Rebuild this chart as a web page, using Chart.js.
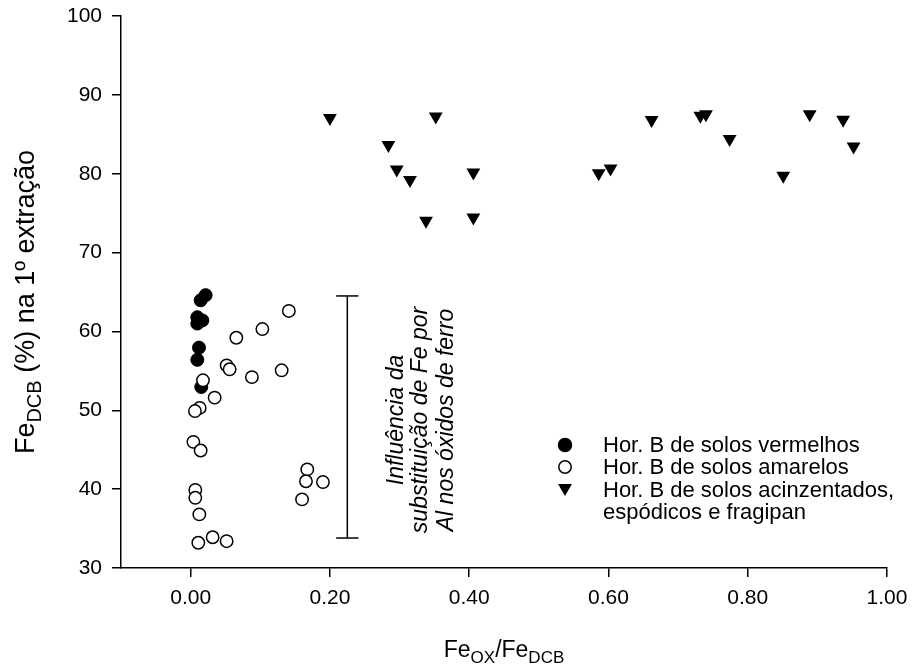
<!DOCTYPE html>
<html><head><meta charset="utf-8">
<script src="https://cdn.jsdelivr.net/npm/chart.js@4/dist/chart.umd.min.js"></script>
<style>html,body{margin:0;padding:0;background:#fff}canvas{display:block}</style>
</head><body>
<canvas id="c" width="912" height="670"></canvas>
<script>
// ---- data ----
const redX = [0.0215, 0.0144, 0.0096, 0.0168, 0.0096, 0.012, 0.0096, 0.0153];
const redY = [64.6, 63.95, 61.8, 61.4, 61.0, 57.95, 56.4, 52.95];

const yellowX = [0.141, 0.103, 0.0656, 0.0517, 0.056, 0.088, 0.1307, 0.0177, 0.0345, 0.013, 0.0062, 0.0039, 0.0144, 0.1675, 0.1656, 0.19, 0.160, 0.0067, 0.0067, 0.0125, 0.011, 0.0316, 0.0517];
const yellowY = [62.6, 60.3, 59.2, 55.7, 55.2, 54.2, 55.07, 53.8, 51.6, 50.3, 49.9, 46.0, 44.9, 42.5, 41.0, 40.9, 38.7, 39.9, 38.9, 36.8, 33.2, 33.9, 33.4];

const greyX = [0.200, 0.284, 0.296, 0.315, 0.338, 0.352, 0.406, 0.406, 0.586, 0.603, 0.662, 0.732, 0.740, 0.774, 0.851, 0.889, 0.937, 0.952];
const greyY = [87.05, 83.65, 80.55, 79.2, 74.05, 87.25, 80.15, 74.45, 80.05, 80.65, 86.8, 87.35, 87.55, 84.4, 79.75, 87.55, 86.85, 83.45];

const barX = 0.225;
const barLow = 33.8;
const barHigh = 64.5;
const barCapHalf = 0.016;

const xTicks = [0.0, 0.2, 0.4, 0.6, 0.8, 1.0];
const xMin = -0.1, xMax = 1.0;
const yMin = 30, yMax = 100, yStep = 10;

const legendLabels = ["Hor. B de solos vermelhos", "Hor. B de solos amarelos", "Hor. B de solos acinzentados,", "espódicos e fragipan"];
const noteLines = ["Influência da", "substituição de Fe por", "Al nos óxidos de ferro"];

const FONT = "'Liberation Sans', Arial, Helvetica, sans-serif";

const pts = (xs, ys) => xs.map((x, i) => ({x: x, y: ys[i]}));

const titlesPlugin = {
  id: 'titles',
  afterDraw(chart) {
    const ctx = chart.ctx;
    ctx.save();
    ctx.fillStyle = '#000';
    // x title
    const mainF = '23px ' + FONT, subF = '17px ' + FONT;
    const parts = [['Fe', mainF, 0], ['OX', subF, 6], ['/Fe', mainF, 0], ['DCB', subF, 6]];
    let w = 0;
    parts.forEach(p => { ctx.font = p[1]; w += ctx.measureText(p[0]).width; });
    let cx = (chart.chartArea.left + chart.chartArea.right) / 2 - w / 2;
    const by = 657;
    ctx.textBaseline = 'alphabetic';
    ctx.textAlign = 'left';
    parts.forEach(p => { ctx.font = p[1]; ctx.fillText(p[0], cx, by + p[2]); cx += ctx.measureText(p[0]).width; });

    // y title rotated
    const yMainF = '27px ' + FONT, ySubF = '20px ' + FONT;
    const yparts = [['Fe', yMainF, 0], ['DCB', ySubF, 7], [' (%) na 1º extração', yMainF, 0]];
    let yw = 0;
    yparts.forEach(p => { ctx.font = p[1]; yw += ctx.measureText(p[0]).width; });
    ctx.translate(34, 302);
    ctx.rotate(-Math.PI / 2);
    let tx = -yw / 2;
    yparts.forEach(p => { ctx.font = p[1]; ctx.fillText(p[0], tx, p[2]); tx += ctx.measureText(p[0]).width; });
    ctx.restore();

    // annotation (rotated italic)
    ctx.save();
    ctx.fillStyle = '#000';
    ctx.font = 'italic 23px ' + FONT;
    ctx.textAlign = 'center';
    ctx.textBaseline = 'alphabetic';
    ctx.translate(0, 420);
    ctx.rotate(-Math.PI / 2);
    const baseXs = [403, 427, 453];
    noteLines.forEach((t, i) => { ctx.fillText(t, 0, baseXs[i]); });
    ctx.restore();

    // legend
    ctx.save();
    ctx.font = '22px ' + FONT;
    ctx.textAlign = 'left';
    ctx.textBaseline = 'middle';
    ctx.fillStyle = '#000';
    const lx = 565, tx0 = 603;
    const rows = [445, 467, 490, 512];
    ctx.lineWidth = 1.5;
    ctx.strokeStyle = '#000';
    ctx.beginPath(); ctx.arc(lx, rows[0], 6.5, 0, Math.PI * 2); ctx.fill(); ctx.stroke();
    ctx.beginPath(); ctx.arc(lx, rows[1], 6.2, 0, Math.PI * 2); ctx.fillStyle = '#fff'; ctx.fill(); ctx.stroke();
    ctx.fillStyle = '#000';
    const r = 8, cy = rows[2] - 2;
    ctx.beginPath();
    ctx.moveTo(lx, cy + r);
    ctx.lineTo(lx - r * Math.sqrt(3) / 2, cy - r / 2);
    ctx.lineTo(lx + r * Math.sqrt(3) / 2, cy - r / 2);
    ctx.closePath(); ctx.fill();
    legendLabels.forEach((t, i) => ctx.fillText(t, tx0, rows[i] + 1));
    ctx.restore();
  }
};

new Chart(document.getElementById('c'), {
  type: 'scatter',
  data: {
    datasets: [
      {
        label: 'bar', type: 'line', data: [{x: barX, y: barLow}, {x: barX, y: barHigh}],
        borderColor: '#000', borderWidth: 1.5, pointRadius: 0, showLine: true, fill: false, order: 5
      },
      {
        label: 'capLow', type: 'line', data: [{x: barX - barCapHalf, y: barLow}, {x: barX + barCapHalf, y: barLow}],
        borderColor: '#000', borderWidth: 1.5, pointRadius: 0, showLine: true, fill: false, order: 5
      },
      {
        label: 'capHigh', type: 'line', data: [{x: barX - barCapHalf, y: barHigh}, {x: barX + barCapHalf, y: barHigh}],
        borderColor: '#000', borderWidth: 1.5, pointRadius: 0, showLine: true, fill: false, order: 5
      },
      {
        label: legendLabels[2], data: pts(greyX, greyY), pointStyle: 'triangle', rotation: 180,
        pointRadius: 8, backgroundColor: '#000', borderColor: '#000', borderWidth: 0, order: 3
      },
      {
        label: legendLabels[0], data: pts(redX, redY), pointStyle: 'circle',
        pointRadius: 6.5, backgroundColor: '#000', borderColor: '#000', borderWidth: 1, order: 2
      },
      {
        label: legendLabels[1], data: pts(yellowX, yellowY), pointStyle: 'circle',
        pointRadius: 6.2, backgroundColor: '#fff', borderColor: '#000', borderWidth: 1.5, order: 1
      }
    ]
  },
  options: {
    responsive: false,
    animation: false,
    events: [],
    layout: {padding: {left: 0, top: 16, right: 25, bottom: 0}},
    plugins: {legend: {display: false}, tooltip: {enabled: false}},
    scales: {
      x: {
        type: 'linear', min: xMin, max: xMax,
        afterBuildTicks: (s) => { s.ticks = xTicks.map(v => ({value: v})); },
        afterFit: (s) => { s.height = 102; s.paddingLeft = 0; s.paddingRight = 0; },
        ticks: {color: '#000', font: {family: FONT, size: 21}, padding: 9, maxRotation: 0,
          callback: (v) => Number(v).toFixed(2)},
        grid: {display: true, drawOnChartArea: false, drawTicks: true, tickLength: 9, color: '#000', lineWidth: 1.5},
        border: {display: true, color: '#000', width: 1.5}
      },
      y: {
        type: 'linear', min: yMin, max: yMax,
        ticks: {stepSize: yStep, color: '#000', font: {family: FONT, size: 21}, padding: 10},
        afterFit: (s) => { s.width = 121; s.paddingTop = 0; s.paddingBottom = 0; },
        grid: {display: true, drawOnChartArea: false, drawTicks: true, tickLength: 9, color: '#000', lineWidth: 1.5},
        border: {display: true, color: '#000', width: 1.5}
      }
    }
  },
  plugins: [titlesPlugin]
});
</script>
</body></html>
